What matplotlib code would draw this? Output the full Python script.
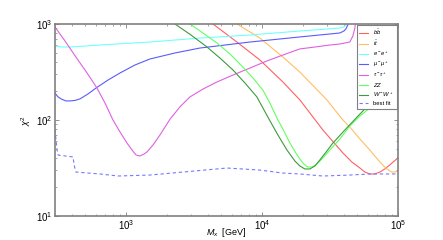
import matplotlib
matplotlib.use("Agg")
import matplotlib.pyplot as plt

plt.rcParams['font.family'] = ['Liberation Sans', 'DejaVu Sans']
plt.rcParams['mathtext.fontset'] = 'custom'
plt.rcParams['mathtext.rm'] = 'Liberation Sans'
plt.rcParams['mathtext.it'] = 'Liberation Sans:italic'
plt.rcParams['mathtext.bf'] = 'Liberation Sans:bold'

# ---- data (M_x in GeV, chi^2) ----
bb_m = [3500, 4365, 6547, 9663, 14266, 19021, 28109, 39448, 45920, 52609, 57183, 62230,
        67735, 73790, 80168, 87258, 100000]
bb_c = [1300, 1000, 649, 422, 249, 162, 78.7, 45.3, 36.5, 31.6, 28.7, 27.4,
        27.4, 28.7, 30.9, 34.0, 40.2]

tt_m = [5080, 6547, 9663, 14266, 19021, 30070, 39448, 44361, 52609, 62230, 73790, 82985,
        90364, 95060, 100000]
tt_c = [1300, 1000, 714, 453, 316, 162, 100, 84.5, 63.4, 48.7, 36.5, 30.9,
        28.7, 28.7, 29.4]

ee_m = [300, 338, 387, 500, 644, 1500, 3500, 8166, 19021, 37474, 40092, 41469, 42170]
ee_c = [590, 576, 576, 590, 604, 649, 714, 768, 845, 908, 931, 977, 1101]

mm_m = [300, 316, 338, 362, 387, 422, 459, 526, 601, 738, 904, 1164, 1500, 2292, 3500,
        8166, 19021, 37474, 40092, 41469, 42855, 43625]
mm_c = [191, 174, 164, 158, 158, 160, 166, 187, 215, 261, 309, 374, 432, 499, 562,
        649, 733, 806, 845, 887, 977, 1101]

tau_m = [300, 356, 428, 517, 612, 701, 802, 904, 1017, 1107, 1185, 1267, 1356, 1426, 1580,
         1778, 2108, 2494, 2955, 3681, 4670, 6124, 8166, 10886, 14266, 19021, 24547,
         31623, 37474, 44361, 46690, 48306, 49091]
tau_c = [931, 665, 453, 309, 215, 150, 100, 75, 57.5, 48.7, 43.2, 42.2, 44.2, 46.4, 54.9,
         69.8, 102, 137, 174, 210, 249, 294, 348, 412, 475, 550, 576,
         604, 619, 649, 750, 908, 1101]

zz_m = [2108, 2955, 3681, 4670, 5821, 7244, 8590, 10163, 11455, 12885, 14511, 16073, 17783,
        19021, 20347, 21774, 23336, 24964, 28109, 31623, 37474, 44361, 52609, 62230,
        87258, 100000]
zz_c = [1400, 1000, 806, 634, 487, 356, 274, 205, 150, 105, 76.8, 57.5, 45.3,
        39.2, 34.8, 32.4, 32.4, 34.0, 40.2, 48.7, 63.4, 86.6, 110, 133,
        191, 221]

ww_m = [1663, 2292, 3008, 3945, 4911, 6124, 7499, 9187, 11073, 13117, 15279, 17492, 19021,
        20700, 22530, 24547, 26685, 30070, 33266, 40774, 50000, 62230, 82985, 100000]
ww_c = [1400, 1000, 768, 576, 442, 332, 243, 174, 107, 69.8, 48.7, 37.4, 33.2,
        30.9, 30.9, 33.2, 38.3, 47.5, 57.5, 78.7, 107, 147, 205, 249]

bf_m = [300, 311, 317, 408, 415, 428, 644, 873, 1500, 2625, 5530, 9660, 14260, 19000,
        28100, 44400, 62200, 100000]
bf_c = [78.7, 48.7, 43.1, 41.2, 34.0, 28.7, 27.4, 26.1, 26.7, 28.7, 31.6, 30.1, 28.0, 27.4,
        26.1, 26.7, 27.4, 27.4]

labels = [r'$b\bar{b}$', r'$t\bar{t}$', r'$e^-e^+$', r'$\mu^-\mu^+$', r'$\tau^-\tau^+$',
          r'$ZZ$', r'$W^-W^+$', 'best fit']

fig = plt.figure(figsize=(4.43, 2.40), dpi=100)
ax = fig.add_axes([0.124, 0.10, 0.774, 0.80])

lw = 0.8
ax.plot(bb_m, bb_c, color='#ff6060', lw=lw, label=labels[0])
ax.plot(tt_m, tt_c, color='#ffc060', lw=lw, label=labels[1])
ax.plot(ee_m, ee_c, color='#70ffff', lw=lw, label=labels[2])
ax.plot(mm_m, mm_c, color='#5a5aff', lw=lw, label=labels[3])
ax.plot(tau_m, tau_c, color='#e060e0', lw=lw, label=labels[4])
ax.plot(zz_m, zz_c, color='#60ff60', lw=lw, label=labels[5])
ax.plot(ww_m, ww_c, color='#3c9c3c', lw=lw, label=labels[6])
ax.plot(bf_m, bf_c, color='#7878ff', lw=lw, ls=(0, (3, 2.5)), label=labels[7])

ax.set_xscale('log')
ax.set_yscale('log')
ax.set_xlim(300, 1e5)
ax.set_ylim(10, 1000)

for s in ax.spines.values():
    s.set_color('#808080')
    s.set_linewidth(1.2)
ax.tick_params(which='both', direction='in', top=True, right=True, colors='#808080',
               labelcolor='black', labelsize=7)
ax.tick_params(axis='x', which='major', pad=1.5)
ax.tick_params(axis='y', which='major', pad=2)
ax.tick_params(which='major', length=3, width=0.6)
ax.tick_params(which='minor', length=1.5, width=0.5)

ax.set_xlabel(r'$M_x$  [GeV]', fontsize=6.5, va='top')
ax.xaxis.set_label_coords(0.5, -0.05)
ax.set_ylabel(r'$\chi^2$', fontsize=6.5, labelpad=2)

leg = ax.legend(loc='upper right', fontsize=4.2, handlelength=1.4, labelspacing=0.32,
                borderpad=0.45, handletextpad=1.0, borderaxespad=0.2, fancybox=False,
                framealpha=1, edgecolor='#808080')
leg.get_frame().set_linewidth(0.8)

fig.savefig('out.png', dpi=100)
